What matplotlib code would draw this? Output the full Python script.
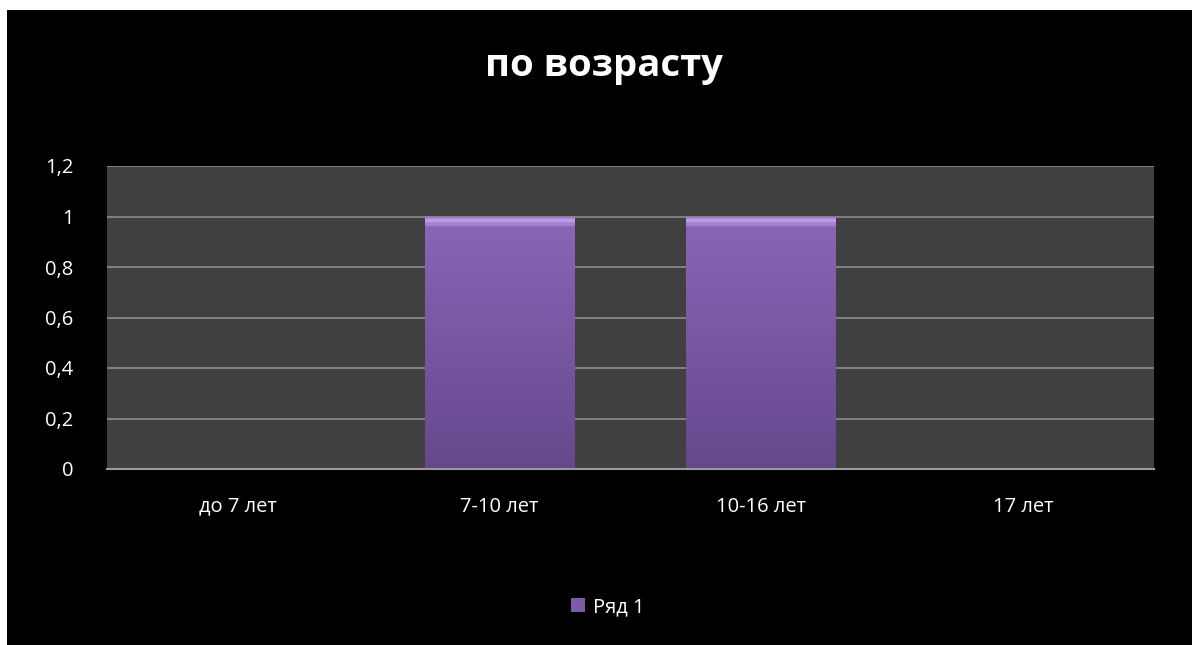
import numpy as np
import matplotlib.pyplot as plt
from matplotlib.patches import Rectangle

plt.rcParams['font.family'] = ['Open Sans', 'DejaVu Sans']

categories = ["до 7 лет", "7-10 лет", "10-16 лет", "17 лет"]
values = [0, 1, 1, 0]
series_name = "Ряд 1"
y_ticks = [0, 0.2, 0.4, 0.6, 0.8, 1, 1.2]
y_tick_labels = ["0", "0,2", "0,4", "0,6", "0,8", "1", "1,2"]

fig = plt.figure(figsize=(11.92, 6.45), dpi=100, facecolor='white')
# black chart frame (white strip left and top)
fig.patches.append(Rectangle((7 / 1192, -0.02), 1.1, 1.02 - 10 / 645, transform=fig.transFigure,
                             facecolor='black', edgecolor='none', zorder=-10))

ax = fig.add_axes([107 / 1192, 1 - 469 / 645, (1154 - 107) / 1192, (469 - 166) / 645])
ax.set_facecolor('#404040')

x = np.arange(len(categories))
bars = ax.bar(x, values, width=0.573, color='#7d5aa8', zorder=3, label=series_name)

# vertical gradient with a lighter bevel at the top
grad = np.linspace(0, 1, 200)
top = np.array([0.545, 0.40, 0.72])
bot = np.array([0.40, 0.28, 0.55])
cols = top[None, :] * (1 - grad[:, None]) + bot[None, :] * grad[:, None]
cols[:2] = np.array([0.62, 0.48, 0.80])
cols[2:5] = np.array([0.74, 0.60, 0.90])
cols[5:8] = np.array([0.64, 0.50, 0.82])
img = cols[:, None, :]
for b in bars:
    if b.get_height() <= 0:
        continue
    x0, w, h = b.get_x(), b.get_width(), b.get_height()
    im = ax.imshow(img, extent=[x0, x0 + w, 0, h], aspect='auto', zorder=4,
                   interpolation='bilinear')
    im.set_clip_path(b)

ax.set_xlim(-0.5, len(categories) - 0.5)
ax.set_ylim(0, 1.2)
ax.set_yticks(y_ticks)
ax.set_yticklabels(y_tick_labels)
ax.set_xticks(x)
ax.set_xticklabels(categories)
ax.yaxis.grid(True, color='#8c8c8c', linewidth=1.2, zorder=1)
ax.set_axisbelow(True)
ax.tick_params(axis='both', length=0, colors='white', labelsize=14.5)
ax.tick_params(axis='y', pad=24)
ax.tick_params(axis='x', pad=20)
for s in ['top', 'right', 'left']:
    ax.spines[s].set_visible(False)
ax.spines['bottom'].set_color('#9a9a9a')
ax.spines['bottom'].set_linewidth(1.5)
ax.spines['bottom'].set_zorder(5)

fig.text(0.507, 1 - 66 / 645, "по возрасту", ha='center', va='center',
         fontsize=27.5, fontweight='bold', color='white')

leg = fig.legend(handles=[bars], labels=[series_name], loc='center',
                 bbox_to_anchor=(0.51, 1 - 607 / 645), frameon=False,
                 fontsize=14.5, handlelength=0.7, handleheight=0.7, handletextpad=0.4)
for t in leg.get_texts():
    t.set_color('white')

fig.savefig('out.png', dpi=100, facecolor=fig.get_facecolor())
